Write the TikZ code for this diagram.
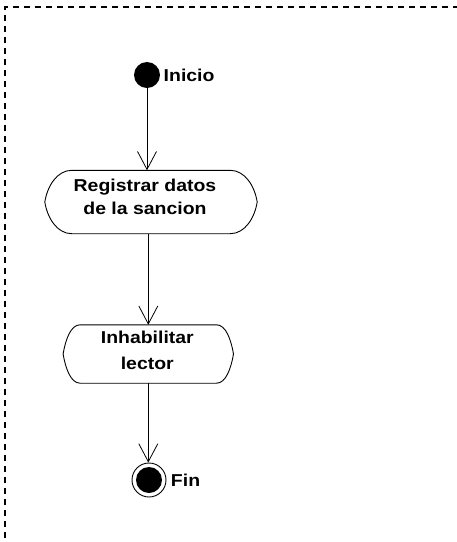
\documentclass[tikz,border=0pt]{standalone}
\usepackage{fontspec}
\setmainfont{Liberation Sans}[FakeStretch=1.13]
\usetikzlibrary{arrows.meta,calc}
% #1 node, #2 horizontal inset of the curved ends, #3 half height
\newcommand\actoutline[3]{%
  \draw[actline]
    ($(#1.north west)+(#2,0)$) -- ($(#1.north east)+(-#2,0)$)
    .. controls ($(#1.north east)+(-0.45*#2,0)$) and ($(#1.east)+(-2.5,-0.5*#3)$) .. (#1.east)
    .. controls ($(#1.east)+(-2.5,0.5*#3)$) and ($(#1.south east)+(-0.45*#2,0)$) .. ($(#1.south east)+(-#2,0)$)
    -- ($(#1.south west)+(#2,0)$)
    .. controls ($(#1.south west)+(0.45*#2,0)$) and ($(#1.west)+(2.5,0.5*#3)$) .. (#1.west)
    .. controls ($(#1.west)+(2.5,-0.5*#3)$) and ($(#1.north west)+(0.45*#2,0)$) .. cycle;}
\begin{document}
\begin{tikzpicture}[x=1pt,y=-1pt,
  every node/.style={font=\fontsize{17.2}{23}\selectfont\bfseries},
  actline/.style={line width=0.9pt},
  activity/.style={inner sep=0pt},
  acttext/.style={align=center, inner sep=0pt},
  flow/.style={draw, line width=0.8pt, -{Straight Barb[length=18pt,width=19pt,line width=0.8pt]}},
  border/.style={line width=2pt, dash pattern=on 6pt off 5pt},
  startnode/.style={circle, fill, inner sep=0pt, minimum size=26pt},
  endring/.style={circle, draw, line width=0.9pt, inner sep=0pt, minimum size=34pt}]
\useasboundingbox (0,0) rectangle (457,542);
\draw[border] (5,560) -- (5,7) -- (470,7);
\node[startnode, label={[label distance=0pt]right:Inicio}] (start) at (147,75) {};
\node[activity, minimum width=212pt, minimum height=63pt,
  label={[acttext, xshift=-6pt, yshift=5pt]center:{Registrar datos\\de la sancion}}] (a1) at (151,202) {};
\node[activity, minimum width=170pt, minimum height=58pt,
  label={[acttext, xshift=-1pt, yshift=4pt, font=\fontsize{17.2}{26}\selectfont\bfseries]center:{Inhabilitar\\lector}}] (a2) at (148.3,354) {};
\actoutline{a1}{27}{31.5}
\actoutline{a2}{17}{29}
\node[endring, label={[label distance=1pt]right:Fin}] (end) at (149,480) {};
\node[startnode] (enddot) at (end) {};
\draw[flow] (start.south) -- (start.south |- a1.north);
\draw[flow] (a2.north |- a1.south) -- (a2.north);
\draw[flow] (a2.south) -- (a2.south |- end.north);
\end{tikzpicture}
\end{document}
